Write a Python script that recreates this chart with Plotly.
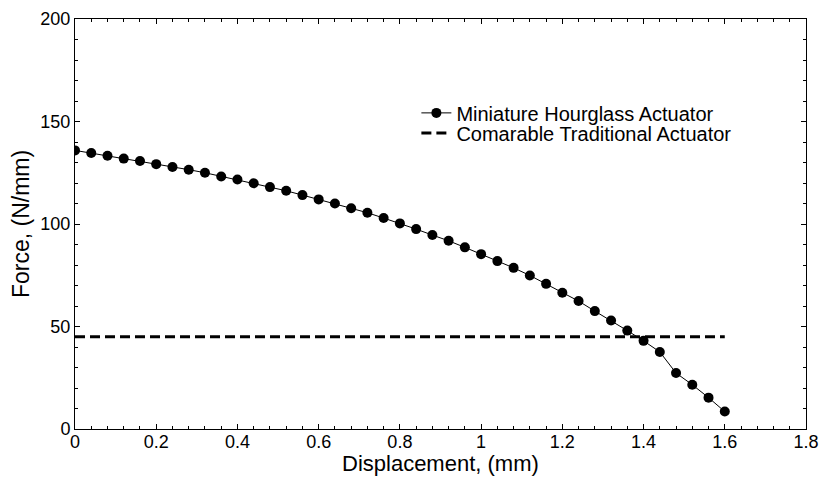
import plotly.graph_objects as go

disp = [0.00, 0.04, 0.08, 0.12, 0.16, 0.20, 0.24, 0.28, 0.32, 0.36,
        0.40, 0.44, 0.48, 0.52, 0.56, 0.60, 0.64, 0.68, 0.72, 0.76,
        0.80, 0.84, 0.88, 0.92, 0.96, 1.00, 1.04, 1.08, 1.12, 1.16,
        1.20, 1.24, 1.28, 1.32, 1.36, 1.40, 1.44, 1.48, 1.52, 1.56, 1.60]
force_hourglass = [135.9, 134.6, 133.3, 131.9, 130.7, 129.2, 127.8, 126.5, 125.0, 123.2,
                   121.7, 119.9, 118.0, 116.2, 114.1, 112.0, 110.0, 107.7, 105.5, 102.9,
                   100.3, 97.5, 94.6, 91.8, 88.6, 85.3, 81.9, 78.6, 74.9, 70.8,
                   66.5, 62.4, 57.5, 52.9, 48.0, 43.0, 37.6, 27.3, 21.6, 15.3, 8.5]
trad_x = [0.0, 1.6]
trad_force = [45.0, 45.0]
x_title = "Displacement, (mm)"
y_title = "Force, (N/mm)"

FONT = "Liberation Sans, Arial, sans-serif"

fig = go.Figure()
fig.add_trace(go.Scatter(
    x=disp, y=force_hourglass, mode="lines+markers",
    name="Miniature Hourglass Actuator",
    line=dict(color="black", width=1),
    marker=dict(color="black", size=10, symbol="circle"),
    legend="legend",
))
fig.add_trace(go.Scatter(
    x=trad_x, y=trad_force, mode="lines",
    name="Comarable Traditional Actuator",
    line=dict(color="black", width=3, dash="10px,5px"),
    legend="legend2",
))

axis_common = dict(
    showgrid=False, zeroline=False, showline=True, linecolor="black", linewidth=1,
    mirror="ticks", ticks="inside", ticklen=5, tickcolor="black", tickwidth=1,
    tickfont=dict(family=FONT, size=18, color="black"), automargin=False,
)
fig.update_xaxes(
    range=[0, 1.8], dtick=0.2, tickformat="~g", ticklabelstandoff=-4,
    minor=dict(ticks="inside", dtick=0.04, ticklen=3, tickcolor="black"),
    **axis_common,
)
fig.update_yaxes(
    range=[0, 200], dtick=50,
    minor=dict(ticks="inside", dtick=10, ticklen=3, tickcolor="black"),
    title=dict(text=y_title, font=dict(family=FONT, size=23, color="black"), standoff=4),
    **axis_common,
)
fig.add_annotation(
    text=x_title, xref="paper", yref="paper", x=0.5, y=-0.118,
    xanchor="center", yanchor="bottom", showarrow=False, borderpad=0,
    font=dict(family=FONT, size=22, color="black"),
)
leg_common = dict(
    xanchor="left", yanchor="middle",
    bgcolor="rgba(0,0,0,0)", borderwidth=0,
    font=dict(family=FONT, size=20, color="black"),
    itemwidth=30, tracegroupgap=0,
)
fig.update_layout(
    width=821, height=479,
    margin=dict(l=75, r=15, t=19, b=50, autoexpand=False),
    paper_bgcolor="white", plot_bgcolor="white",
    showlegend=True,
    legend=dict(x=0.467, y=0.771, **leg_common),
    legend2=dict(x=0.467, y=0.722, **leg_common),
)
fig.write_html("out.html")
